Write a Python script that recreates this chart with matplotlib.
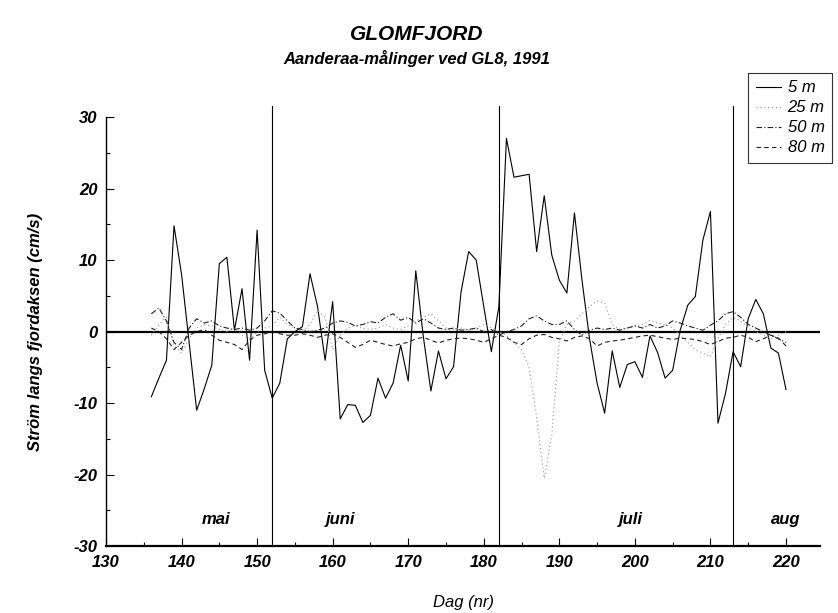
import numpy as np
import matplotlib
matplotlib.use("Agg")
import matplotlib.pyplot as plt
from matplotlib.ticker import MultipleLocator

plt.rcParams['font.family'] = ['Liberation Sans', 'DejaVu Sans']
plt.rcParams['axes.unicode_minus'] = False

# day numbers 136..220
days = list(range(136, 221))

m5 = [-9.1, -6.5, -4.0, 14.8, 8.0, -1.5, -11.0, -8.0, -4.7, 9.5,
      10.4, 0.2, 6.0, -4.0, 14.2, -5.4, -9.3, -7.2, -1.0, 0.0,
      0.7, 8.1, 3.5, -4.0, 4.2, -12.2, -10.2, -10.3, -12.7, -11.7,
      -6.5, -9.3, -7.2, -1.9, -6.9, 8.5, -0.7, -8.3, -2.7, -6.6,
      -4.9, 5.6, 11.2, 10.0, 3.5, -2.8, 3.5, 27.0, 21.6, 21.8,
      22.0, 11.2, 19.0, 10.7, 7.2, 5.4, 16.6, 7.2, -1.0, -7.2,
      -11.4, -2.7, -7.8, -4.6, -4.2, -6.4, -0.6, -2.9, -6.5, -5.4,
      0.2, 3.7, 4.9, 12.8, 16.8, -12.8, -8.6, -2.8, -4.9, 1.8,
      4.5, 2.5, -2.3, -3.0, -8.1]

m25 = [-0.5, 1.0, 2.0, -2.0, -3.0, -1.0, 0.5, 1.0, 0.8, 0.3,
       0.0, 0.5, -0.5, -1.0, 0.0, 0.5, 0.8, 2.0, 1.0, 0.5,
       0.0, 1.0, 3.0, 2.0, -2.5, -0.5, 0.5, 0.8, 0.5, 0.3,
       0.5, 1.0, 0.5, 0.3, 0.8, 1.5, 2.0, 2.5, 1.5, 0.5,
       0.3, 0.5, 0.2, 0.5, 1.0, 0.5, 0.0, -0.5, -1.5, -2.5,
       -5.0, -12.0, -20.5, -14.5, -1.5, 1.0, 1.5, 2.5, 3.5, 4.3,
       4.0, 1.0, 0.3, 0.5, 0.8, 1.0, 1.6, 1.2, 1.0, 0.5,
       -0.5, -1.5, -2.5, -3.0, -3.5, -1.0, 1.0, 2.0, 1.5, 0.5,
       0.0, -0.5, -1.0, -0.5, 0.0]

m50 = [2.5, 3.3, 1.5, -1.5, -2.5, 0.5, 1.8, 1.2, 1.5, 0.8,
       0.5, 0.3, 0.5, 0.2, 0.5, 1.5, 2.9, 2.6, 1.5, 0.5,
       0.3, 0.0, 0.2, 0.5, 1.2, 1.5, 1.3, 0.8, 1.0, 1.4,
       1.2, 2.0, 2.5, 1.6, 2.0, 1.2, 1.8, 1.2, 0.5, 0.3,
       0.5, 0.2, 0.3, 0.5, 0.0, 0.3, -0.5, 0.0, 0.3, 0.8,
       1.8, 2.2, 1.5, 1.0, 1.0, 1.5, 0.3, -0.5, 0.2, 0.5,
       0.3, 0.5, 0.2, 0.5, 0.8, 0.5, 1.0, 0.5, 0.8, 1.5,
       1.2, 0.8, 0.5, 0.2, 0.9, 1.5, 2.5, 2.8, 2.0, 1.0,
       0.5, 0.0, -0.5, -1.0, -1.5]

m80 = [0.5, 0.0, -1.0, -2.5, -1.5, -0.5, 0.0, 0.3, -0.5, -1.2,
       -1.5, -1.8, -2.5, -1.2, -0.5, -0.3, 0.0, -0.3, -0.5, -0.5,
       -0.3, -0.5, -0.8, -0.5, -0.3, -0.8, -1.5, -2.2, -1.8, -1.2,
       -1.5, -1.8, -2.0, -1.7, -1.5, -1.0, -0.8, -1.2, -1.6, -1.2,
       -1.0, -0.9, -1.0, -1.2, -1.5, -1.0, -0.5, -0.8, -1.5, -1.8,
       -1.0, -0.5, -0.4, -0.8, -1.0, -1.3, -0.8, -0.6, -1.0, -2.0,
       -1.5, -1.3, -1.2, -1.0, -0.8, -0.6, -0.5, -0.7, -0.9, -1.1,
       -0.9, -1.0, -1.1, -1.4, -1.8, -1.4, -0.9, -0.8, -0.5, -0.8,
       -1.4, -1.0, -0.5, -0.9, -2.0]

month_starts = [152, 182, 213]
month_names = ['mai', 'juni', 'juli', 'aug']
month_label_x = [144.5, 161, 199.5, 220]

fig = plt.figure(figsize=(8.38, 6.13), dpi=100)
ax = fig.add_axes([0.1265, 0.109, 0.852, 0.700])

ax.plot(days, m5, color='black', lw=0.8, label='5 m')
ax.plot(days, m25, color='#999999', lw=0.8, ls=(0, (1, 2.5)), label='25 m')
ax.plot(days, m50, color='#222222', lw=0.8, ls=(0, (5, 2, 1, 2)), label='50 m')
ax.plot(days, m80, color='#222222', lw=0.8, ls=(0, (4, 3)), label='80 m')

ax.axhline(0, color='black', lw=1.6, zorder=1)
for d in month_starts:
    ax.plot([d, d], [-30, 31.5], color='black', lw=0.8, clip_on=False)

for name, xm in zip(month_names, month_label_x):
    ax.text(xm, -26.2, name, ha='center', va='center', fontsize=12,
            style='italic', weight='bold')

ax.set_xlim(130, 224.5)
ax.set_ylim(-30, 30)
ax.spines['top'].set_visible(False)
ax.spines['right'].set_visible(False)
ax.spines['bottom'].set_linewidth(1.6)
ax.spines['left'].set_linewidth(1.0)

ax.xaxis.set_major_locator(MultipleLocator(10))
ax.xaxis.set_minor_locator(MultipleLocator(5))
ax.yaxis.set_major_locator(MultipleLocator(10))
ax.yaxis.set_minor_locator(MultipleLocator(5))
ax.tick_params(which='major', direction='in', length=6, width=0.8, labelsize=12, pad=6)
ax.tick_params(which='minor', direction='in', length=3, width=0.8)
ax.set_xticks(range(130, 221, 10))
for lab in ax.get_xticklabels() + ax.get_yticklabels():
    lab.set_style('italic')
    lab.set_weight('bold')

ax.set_xlabel('Dag (nr)', fontsize=12, style='italic', labelpad=18)
ax.set_ylabel('Ström langs fjordaksen (cm/s)', fontsize=12, style='italic',
              weight='bold', labelpad=22)

fig.text(0.497, 0.943, 'GLOMFJORD', ha='center', va='center', fontsize=15,
         style='italic', weight='bold')
fig.text(0.497, 0.905, 'Aanderaa-målinger ved GL8, 1991', ha='center',
         va='center', fontsize=12, style='italic', weight='bold')

leg = ax.legend(loc='upper left', bbox_to_anchor=(0.893, 0.881),
                bbox_transform=fig.transFigure, frameon=True, fancybox=False,
                handlelength=1.5, handletextpad=0.4, borderpad=0.45,
                borderaxespad=0, labelspacing=0.3,
                prop={'size': 12, 'style': 'italic'})
leg.get_frame().set_edgecolor('black')
leg.get_frame().set_linewidth(0.8)

fig.savefig('out.png', dpi=100)
